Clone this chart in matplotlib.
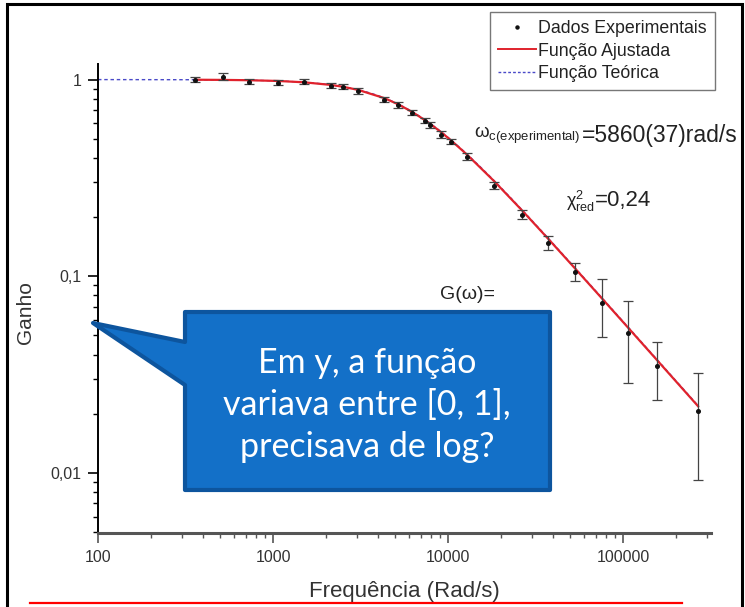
import numpy as np
import matplotlib
matplotlib.use("Agg")
import matplotlib.pyplot as plt
from matplotlib.lines import Line2D
from matplotlib.patches import Polygon
from matplotlib.ticker import FixedLocator, LogLocator, NullFormatter

plt.rcParams["font.family"] = ["Liberation Sans", "DejaVu Sans"]
plt.rcParams["mathtext.fontset"] = "custom"
plt.rcParams["mathtext.rm"] = "Liberation Sans"
plt.rcParams["mathtext.it"] = "Liberation Sans:italic"
plt.rcParams["mathtext.default"] = "regular"

# measured points: frequency (rad/s), gain and its uncertainty
freq = [358, 518, 729, 1068, 1504, 2145, 2512, 3059, 4306, 5179, 6229, 7390,
        7889, 9120, 10400, 12840, 18320, 26480, 37260, 53160, 75860, 106800,
        156400, 268300]
gain = [1.0, 1.036, 0.977, 0.965, 0.977, 0.932, 0.921, 0.879, 0.791, 0.746,
        0.679, 0.618, 0.590, 0.525, 0.484, 0.406, 0.289, 0.206, 0.148, 0.1054,
        0.0733, 0.0516, 0.035, 0.0207]
gain_err = [0.03, 0.04, 0.03, 0.03, 0.03, 0.03, 0.03, 0.03, 0.025, 0.025,
            0.02, 0.02, 0.02, 0.02, 0.015, 0.015, 0.012, 0.01, 0.012, 0.011,
            0.024, 0.023, 0.0115, 0.0115]

# fitted and theoretical cutoff frequencies (rad/s)
wc_fit = 5860
wc_teo = 5900

x_ticks = [100, 1000, 10000, 100000]
x_ticklabels = ["100", "1000", "10000", "100000"]
y_ticks = [0.01, 0.1, 1]
y_ticklabels = ["0,01", "0,1", "1"]

freq = np.array(freq)
gain = np.array(gain)

W, H = 745, 607
fig = plt.figure(figsize=(W / 100, H / 100), dpi=100)
ax = fig.add_axes([98 / W, 1 - 533 / H, (711 - 98) / W, (533 - 64) / H])

# low-pass response G = 1/sqrt(1 + (w/wc)^2)
w_teo = np.geomspace(100, freq[-1], 200)
g_teo = 1 / np.sqrt(1 + (w_teo / wc_teo) ** 2)
g_fit = 1 / np.sqrt(1 + (freq / wc_fit) ** 2)

ax.plot(w_teo, g_teo, color="#4a4ac8", lw=1.0, ls=(0, (2.5, 2)), zorder=2)
ax.plot(freq, g_fit, color="#e0222c", lw=1.6, zorder=3)
ax.errorbar(freq, gain, yerr=gain_err, fmt="none", ecolor="#444444",
            elinewidth=0.9, capsize=3.5, capthick=0.9, zorder=4)
ax.plot(freq, gain, ls="none", marker="o", ms=2.6, color="#111111", zorder=5)

ax.set_xscale("log")
ax.set_yscale("log")
ax.set_xlim(100, 318000)
ax.set_ylim(0.00495, 1.2)

ax.xaxis.set_major_locator(FixedLocator(x_ticks))
ax.set_xticklabels(x_ticklabels)
ax.xaxis.set_minor_locator(LogLocator(base=10, subs=np.arange(2, 10), numticks=20))
ax.xaxis.set_minor_formatter(NullFormatter())
ax.yaxis.set_major_locator(FixedLocator(y_ticks))
ax.set_yticklabels(y_ticklabels)
ax.yaxis.set_minor_locator(LogLocator(base=10, subs=np.arange(2, 10), numticks=20))
ax.yaxis.set_minor_formatter(NullFormatter())

for side in ("top", "right"):
    ax.spines[side].set_visible(False)
ax.spines["left"].set_linewidth(1.4)
ax.spines["bottom"].set_linewidth(2.2)
ax.spines["bottom"].set_color("#555555")
ax.tick_params(which="major", direction="out", length=7, width=1.2,
               labelsize=11.5, labelcolor="#333333", pad=5)
ax.tick_params(which="minor", direction="out", length=3.5, width=1.0)
ax.tick_params(axis="x", which="both", color="#555555")

ax.set_xlabel("Frequência (Rad/s)", fontsize=16, color="#333333")
ax.set_ylabel("Ganho", fontsize=15, color="#333333")
ax.xaxis.set_label_coords(0.5, -(592 - 533) / (533 - 64), transform=ax.transAxes)
ax.yaxis.set_label_coords(-(98 - 25) / (711 - 98), (533 - 313) / (533 - 64),
                          transform=ax.transAxes)
ax.xaxis.label.set_va("center")
ax.yaxis.label.set_va("center")

handles = [
    Line2D([], [], ls="none", marker="o", ms=2.2, color="#111111"),
    Line2D([], [], color="#e0222c", lw=1.4),
    Line2D([], [], color="#4a4ac8", lw=1.0, ls=(0, (2, 1.5))),
]
labels = ["Dados Experimentais", "Função Ajustada", "Função Teórica"]
leg = ax.legend(handles, labels, loc="upper right",
                bbox_to_anchor=(715 / W, 1 - 12 / H), bbox_transform=fig.transFigure,
                fontsize=12.8, frameon=True, fancybox=False, framealpha=1,
                edgecolor="#777777", handlelength=2.1, handletextpad=0.15,
                borderpad=0.45, labelspacing=0.32, borderaxespad=0)
leg.get_frame().set_linewidth(1.0)
for t in leg.get_texts():
    t.set_color("#222222")

# fit results written on the chart (figure pixel coordinates)
px = lambda x, y: (x / W, 1 - y / H)
fig.text(*px(474, 138), r"$\omega_{c(experimental)}$", fontsize=13.5,
         color="#222222", va="baseline")
fig.text(*px(582, 142), "=5860(37)rad/s", fontsize=16.5, color="#222222",
         va="baseline")
fig.text(*px(566, 207), r"$\chi^2_{red}$", fontsize=13, color="#222222",
         va="baseline")
fig.text(*px(595, 206), "=0,24", fontsize=16, color="#222222", va="baseline")
fig.text(*px(440, 299), "G(ω)=", fontsize=14, color="#222222", va="baseline")

# overlay in pixel coordinates: frame, underline and speech callout
ov = fig.add_axes([0, 0, 1, 1], zorder=10)
ov.set_xlim(0, W)
ov.set_ylim(H, 0)
ov.axis("off")
ov.patch.set_alpha(0)

ov.plot([7, 7, 742, 742], [H + 5, 4, 4, H + 5], color="black", lw=2.2,
        solid_joinstyle="miter")
ov.plot([30, 682], [603, 603], color="#ff0000", lw=1.6)

callout = Polygon([(185, 312), (550, 312), (550, 490), (185, 490), (185, 385),
                   (93, 323), (185, 342)], closed=True, facecolor="#1370c8",
                  edgecolor="#0d559e", lw=3, joinstyle="round")
ov.add_patch(callout)
ov.text(367, 405, "Em y, a função\nvariava entre [0, 1],\nprecisava de log?",
        ha="center", va="center", color="white", fontsize=24.5,
        family=["Lato", "DejaVu Sans"], linespacing=1.38)

fig.savefig("out.png", dpi=100)
